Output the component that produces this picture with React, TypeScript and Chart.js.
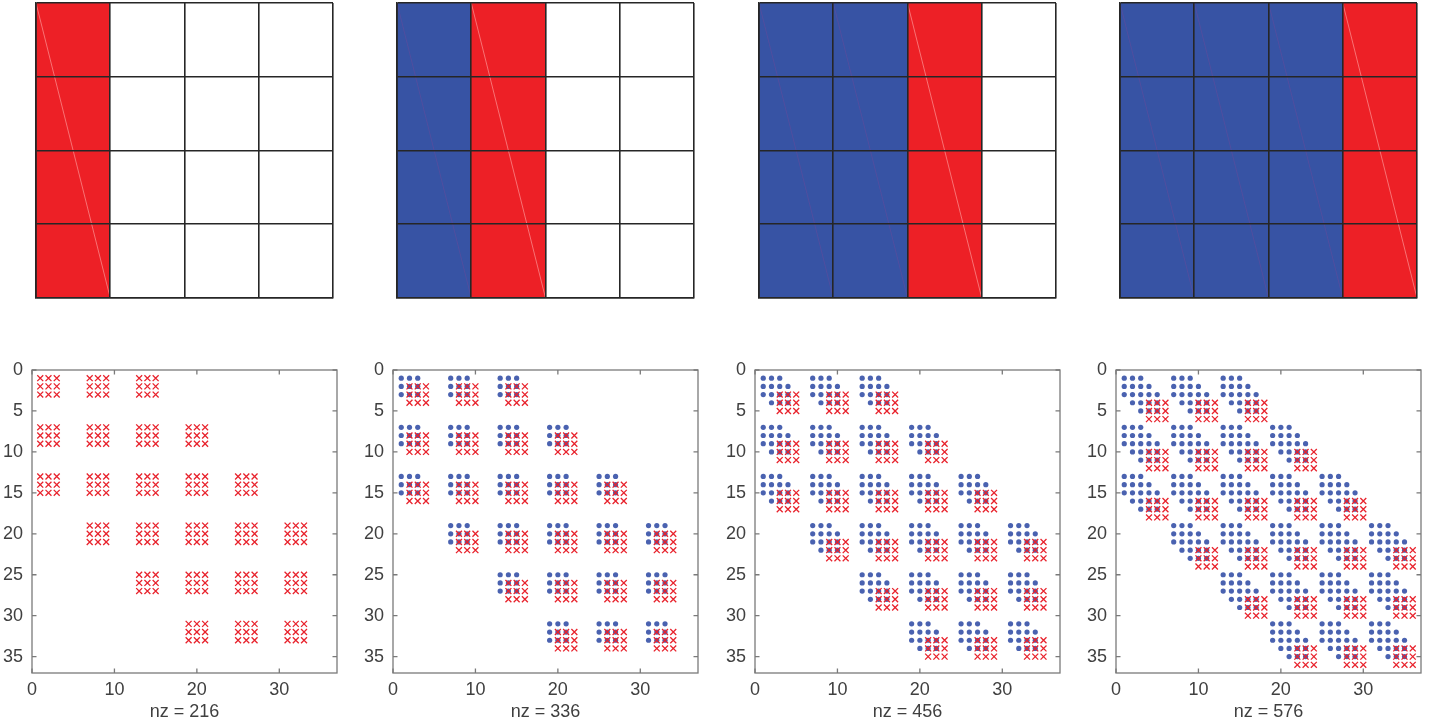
import React, { useEffect, useRef } from 'react';
import { Chart, registerables } from 'chart.js';

Chart.register(...registerables);

// ---------------- data ----------------
const BLOCK_SIZE = 6;
// nonzero block columns for each of the 6 block rows (banded block pattern)
const BLOCK_COLUMNS_BY_ROW: number[][] = [
  [0, 1, 2],
  [0, 1, 2, 3],
  [0, 1, 2, 3, 4],
  [1, 2, 3, 4, 5],
  [2, 3, 4, 5],
  [3, 4, 5],
];
// local row / column offsets of the 3x3 stencil inside a block
const STENCIL_OFFSETS = [1, 2, 3];
// diagonal shift of the newly added (red) stencil in each panel
const PANEL_SHIFTS = [0, 1, 2, 3];
const NZ_COUNTS = [216, 336, 456, 576];
const AXIS_MAX = 37;
const X_TICK_STEP = 10;
const Y_TICK_STEP = 5;

// state of the 4 columns of the 4x4 grid in each top panel
const GRID_COLUMN_STATES: string[][] = [
  ['new', 'empty', 'empty', 'empty'],
  ['old', 'new', 'empty', 'empty'],
  ['old', 'old', 'new', 'empty'],
  ['old', 'old', 'old', 'new'],
];
const GRID_ROWS = 4;
const GRID_COLS = 4;

// ---------------- style ----------------
const TOP_RED = '#ED2026';
const TOP_BLUE = '#3753A4';
const STATE_COLORS: Record<string, string> = { new: TOP_RED, old: TOP_BLUE, empty: '#ffffff' };
const DIAG_COLORS: Record<string, string> = { new: 'rgba(255,170,170,0.75)', old: 'rgba(125,70,150,0.45)' };
const SPY_RED = '#E8222C';
const SPY_BLUE = '#4A62B0';
const AXIS_COLOR = '#7a7a7a';
const TEXT_COLOR = '#404040';
const GRID_COLOR = '#262626';
const FONT_FAMILY = "'Liberation Sans', Arial, Helvetica, sans-serif";

const TOP_LEFTS = [36, 397, 759, 1120];
const TOP_W = 297;
const TOP_H = 295;
const TOP_Y = 3;

const BOT_LEFTS = [32, 393, 755, 1116];
const BOT_W = 305;
const BOT_H = 303;
const BOT_Y = 370;
const BOT_PAD_TOP = 10;
const BOT_CANVAS_H = 365;

function stencilPoints(shift: number) {
  const pts: { x: number; y: number }[] = [];
  BLOCK_COLUMNS_BY_ROW.forEach((cols, I) =>
    cols.forEach((J) =>
      STENCIL_OFFSETS.forEach((a) =>
        STENCIL_OFFSETS.forEach((b) =>
          pts.push({ x: J * BLOCK_SIZE + b + shift, y: I * BLOCK_SIZE + a + shift })
        )
      )
    )
  );
  return pts;
}

function previousPoints(shift: number) {
  const seen = new Set<string>();
  const pts: { x: number; y: number }[] = [];
  PANEL_SHIFTS.filter((s) => s < shift).forEach((s) =>
    stencilPoints(s).forEach((p) => {
      const k = p.x + ',' + p.y;
      if (!seen.has(k)) {
        seen.add(k);
        pts.push(p);
      }
    })
  );
  return pts;
}

const boxTicks = {
  id: 'boxTicks',
  afterDraw(chart: any) {
    const { ctx, chartArea: a, scales } = chart;
    const x = scales.x;
    const y = scales.y;
    const L = 4.5;
    ctx.save();
    ctx.strokeStyle = AXIS_COLOR;
    ctx.lineWidth = 1.3;
    ctx.strokeRect(a.left, a.top, a.right - a.left, a.bottom - a.top);
    ctx.beginPath();
    x.ticks.forEach((t: any) => {
      const px = x.getPixelForValue(t.value);
      ctx.moveTo(px, a.bottom);
      ctx.lineTo(px, a.bottom - L);
      ctx.moveTo(px, a.top);
      ctx.lineTo(px, a.top + L);
    });
    y.ticks.forEach((t: any) => {
      const py = y.getPixelForValue(t.value);
      ctx.moveTo(a.left, py);
      ctx.lineTo(a.left + L, py);
      ctx.moveTo(a.right, py);
      ctx.lineTo(a.right - L, py);
    });
    ctx.stroke();
    ctx.restore();
  },
};

function GridPanel({ index }: { index: number }) {
  const ref = useRef<HTMLCanvasElement>(null);
  useEffect(() => {
    const states = GRID_COLUMN_STATES[index];
    const diagSets = states
      .map((s, i) => ({ s, i }))
      .filter((d) => d.s !== 'empty')
      .map((d) => ({
        type: 'line' as const,
        data: [
          { x: d.i, y: GRID_ROWS },
          { x: d.i + 1, y: 0 },
        ],
        borderColor: DIAG_COLORS[d.s],
        borderWidth: 0.8,
        pointRadius: 0,
        order: 1,
      }));
    const gridOpts = { color: GRID_COLOR, lineWidth: 1.6, drawTicks: false, offset: false, z: 1 };
    const borderOpts = { display: true, color: GRID_COLOR, width: 1.6, z: 1 };
    const chart = new Chart(ref.current!, {
      type: 'bar',
      data: {
        datasets: [
          {
            type: 'bar',
            data: states.map((s, i) => ({ x: i + 0.5, y: GRID_ROWS })),
            backgroundColor: states.map((s) => STATE_COLORS[s]),
            barPercentage: 1,
            categoryPercentage: 1,
            borderWidth: 0,
            order: 2,
          } as any,
          ...(diagSets as any[]),
        ],
      },
      options: {
        animation: false,
        responsive: false,
        events: [],
        layout: { padding: 2 },
        plugins: { legend: { display: false }, tooltip: { enabled: false } },
        scales: {
          x: {
            type: 'linear',
            min: 0,
            max: GRID_COLS,
            offset: false,
            ticks: { display: false, stepSize: 1 },
            grid: gridOpts,
            border: borderOpts,
            afterFit: (s: any) => {
              s.height = 0;
              s.paddingLeft = 0;
              s.paddingRight = 0;
            },
          },
          y: {
            type: 'linear',
            min: 0,
            max: GRID_ROWS,
            ticks: { display: false, stepSize: 1 },
            grid: gridOpts,
            border: borderOpts,
            afterFit: (s: any) => {
              s.width = 0;
              s.paddingTop = 0;
              s.paddingBottom = 0;
            },
          },
        },
      } as any,
    });
    return () => chart.destroy();
  }, [index]);
  return (
    <canvas
      ref={ref}
      width={TOP_W + 4}
      height={TOP_H + 4}
      style={{ position: 'absolute', left: TOP_LEFTS[index] - 2, top: TOP_Y - 2 }}
    />
  );
}

function SpyPanel({ index }: { index: number }) {
  const ref = useRef<HTMLCanvasElement>(null);
  useEffect(() => {
    const shift = PANEL_SHIFTS[index];
    const red = stencilPoints(shift);
    const blue = previousPoints(shift);
    const font = { family: FONT_FAMILY, size: 18 };
    const chart = new Chart(ref.current!, {
      type: 'scatter',
      data: {
        datasets: [
          {
            label: 'new',
            data: red,
            pointStyle: 'crossRot',
            pointRadius: 4.2,
            borderColor: SPY_RED,
            backgroundColor: SPY_RED,
            borderWidth: 1.3,
            order: 0,
          },
          {
            label: 'old',
            data: blue,
            pointStyle: 'circle',
            pointRadius: 2.6,
            backgroundColor: SPY_BLUE,
            borderColor: SPY_BLUE,
            borderWidth: 0,
            order: 1,
          },
        ],
      },
      options: {
        animation: false,
        responsive: false,
        events: [],
        layout: { padding: { top: BOT_PAD_TOP, right: 8, left: 0, bottom: 0 } },
        plugins: { legend: { display: false }, tooltip: { enabled: false } },
        scales: {
          x: {
            type: 'linear',
            min: 0,
            max: AXIS_MAX,
            ticks: { stepSize: X_TICK_STEP, includeBounds: false, padding: 6, color: TEXT_COLOR, font, maxRotation: 0 },
            grid: { display: false, drawTicks: false },
            border: { display: false },
            title: {
              display: true,
              text: 'nz = ' + NZ_COUNTS[index],
              color: TEXT_COLOR,
              font,
              padding: { top: 0, bottom: 2 },
            },
            afterFit: (s: any) => {
              s.height = BOT_CANVAS_H - BOT_PAD_TOP - BOT_H;
              s.paddingLeft = 0;
              s.paddingRight = 0;
            },
          },
          y: {
            type: 'linear',
            min: 0,
            max: AXIS_MAX,
            reverse: true,
            ticks: { stepSize: Y_TICK_STEP, includeBounds: false, padding: 9, color: TEXT_COLOR, font },
            grid: { display: false, drawTicks: false },
            border: { display: false },
            afterFit: (s: any) => {
              s.width = 32;
              s.paddingTop = 0;
              s.paddingBottom = 0;
            },
          },
        },
      } as any,
      plugins: [boxTicks],
    });
    return () => chart.destroy();
  }, [index]);
  return (
    <canvas
      ref={ref}
      width={32 + BOT_W + 8}
      height={BOT_CANVAS_H}
      style={{ position: 'absolute', left: BOT_LEFTS[index] - 32, top: BOT_Y - BOT_PAD_TOP }}
    />
  );
}

export default function App() {
  return (
    <div
      style={{
        position: 'absolute',
        left: 0,
        top: 0,
        width: 1443,
        height: 725,
        background: '#ffffff',
        overflow: 'hidden',
      }}
    >
      {PANEL_SHIFTS.map((_, i) => (
        <GridPanel key={'g' + i} index={i} />
      ))}
      {PANEL_SHIFTS.map((_, i) => (
        <SpyPanel key={'s' + i} index={i} />
      ))}
    </div>
  );
}
